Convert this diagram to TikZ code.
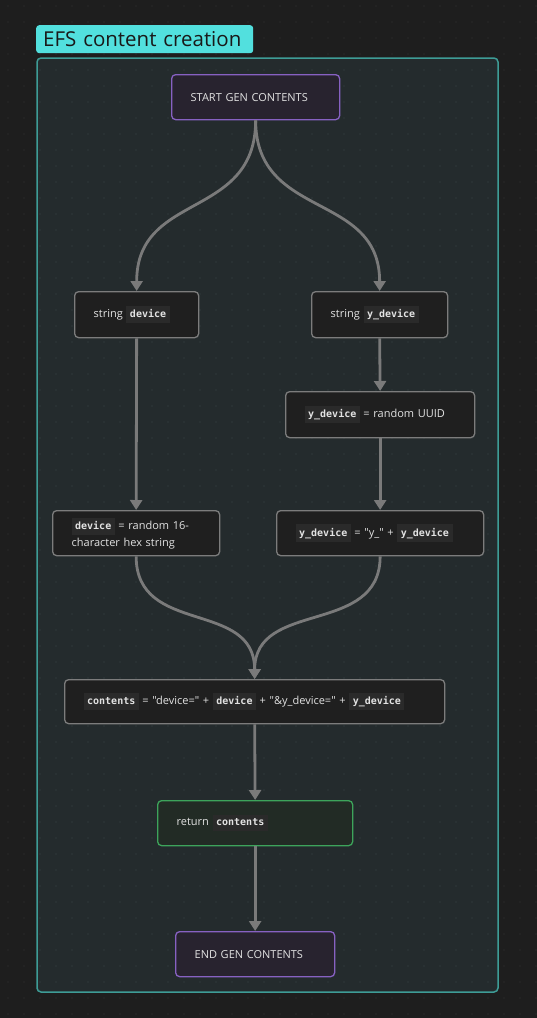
\documentclass[tikz,border=0pt]{standalone}
\usepackage{fontspec}
\setmainfont{Open Sans}[Ligatures=TeXOff]
\setmonofont{DejaVu Sans Mono}
\usetikzlibrary{arrows.meta,positioning}
\definecolor{pagebg}{HTML}{1E1E1E}
\definecolor{framebg}{HTML}{242B2D}
\definecolor{frameline}{HTML}{3E9C96}
\definecolor{titlebg}{HTML}{52E0DE}
\definecolor{dotout}{HTML}{353535}
\definecolor{dotin}{HTML}{3A4547}
\definecolor{nodebg}{HTML}{1F1F1F}
\definecolor{nodeline}{HTML}{7C7C7C}
\definecolor{nodetext}{HTML}{E2E2E2}
\definecolor{chipbg}{HTML}{2A2A2A}
\definecolor{purpleline}{HTML}{8761C2}
\definecolor{purplebg}{HTML}{28232F}
\definecolor{greenline}{HTML}{3DA45B}
\definecolor{greenbg}{HTML}{222B25}
\definecolor{arrowgray}{HTML}{7A7A7A}
\newcommand{\code}[1]{{\setlength{\fboxsep}{3.5pt}\colorbox{chipbg}{\ttfamily\bfseries\fontsize{10}{11}\selectfont\vphantom{gd}#1}}}
\tikzset{
  box/.style={draw=nodeline, fill=nodebg, rounded corners=4pt, line width=1.3pt, text=nodetext, align=left, inner xsep=19pt, inner ysep=0pt, anchor=north west, font=\fontsize{11}{17}\selectfont},
  termbox/.style={box, draw=purpleline, fill=purplebg},
  retbox/.style={box, draw=greenline, fill=greenbg},
  flow/.style={draw=arrowgray, line width=2.8pt, -{Triangle[length=10pt,width=12pt]}}
}
\begin{document}
\begin{tikzpicture}[x=1pt, y=-1pt]
\fill[pagebg] (0,0) rectangle (537,1018);
\useasboundingbox (0,0) rectangle (537,1018);
% grid dots
\foreach \i in {0,...,33} {
  \foreach \j in {0,...,63} {
    \fill[dotout] (8+16*\i,6+16*\j) circle (0.7);
  }
}
% the frame
\draw[frameline, fill=framebg, line width=1.5pt, rounded corners=4pt] (37,58) rectangle (498,992);
\begin{scope}
\clip (38,59) rectangle (497,991);
\foreach \i in {0,...,33} {
  \foreach \j in {0,...,63} {
    \fill[dotin] (8+16*\i,6+16*\j) circle (0.7);
  }
}
\end{scope}
\node[fill=titlebg, rounded corners=3pt, anchor=north west, minimum width=217pt, minimum height=28pt, inner xsep=7pt, text width=203pt, align=left, font=\fontsize{20.5}{22}\selectfont, text=black!90] (title) at (36,25) {\mbox{EFS content creation}};

% nodes
\node[termbox, minimum width=168pt, minimum height=45pt, text width=130pt] (start) at (171,74) {START GEN CONTENTS};
\node[box, minimum width=124pt, minimum height=46pt, text width=86pt] (sdev) at (74,291) {string \code{device}};
\node[box, minimum width=136pt, minimum height=46pt, text width=98pt] (sydev) at (311,291) {string \code{y\_device}};
\node[box, minimum width=189pt, minimum height=46pt, text width=151pt] (uuid) at (285,391) {\code{y\_device} = random UUID};
\node[box, minimum width=167pt, minimum height=45pt, text width=129pt] (devhex) at (52,510) {\code{device} = random 16-\\character hex string};
\node[box, minimum width=207pt, minimum height=45pt, text width=169pt] (yfix) at (276,510) {\code{y\_device} = "y\_" + \code{y\_device}};
\node[box, minimum width=380pt, minimum height=44pt, text width=342pt] (contents) at (64,679) {\code{contents} = "device=" + \code{device} + "\&y\_device=" + \code{y\_device}};
\node[retbox, minimum width=195pt, minimum height=45pt, text width=157pt] (ret) at (157,800) {return \code{contents}};
\node[termbox, minimum width=159pt, minimum height=45pt, text width=121pt] (stop) at (175,931) {END GEN CONTENTS};

% connectors
\draw[flow] (start.south) .. controls +(0,100) and +(0,-100) .. (sdev.north);
\draw[flow] (start.south) .. controls +(0,100) and +(0,-100) .. (sydev.north);
\draw[flow] (sdev.south) -- (devhex.north);
\draw[flow] (sydev.south) -- (uuid.north);
\draw[flow] (uuid.south) -- (yfix.north);
\draw[flow] (devhex.south) .. controls +(0,80) and +(0,-80) .. (contents.north);
\draw[flow] (yfix.south) .. controls +(0,80) and +(0,-80) .. (contents.north);
\draw[flow] (contents.south) -- (ret.north);
\draw[flow] (ret.south) -- (stop.north);
\end{tikzpicture}
\end{document}
